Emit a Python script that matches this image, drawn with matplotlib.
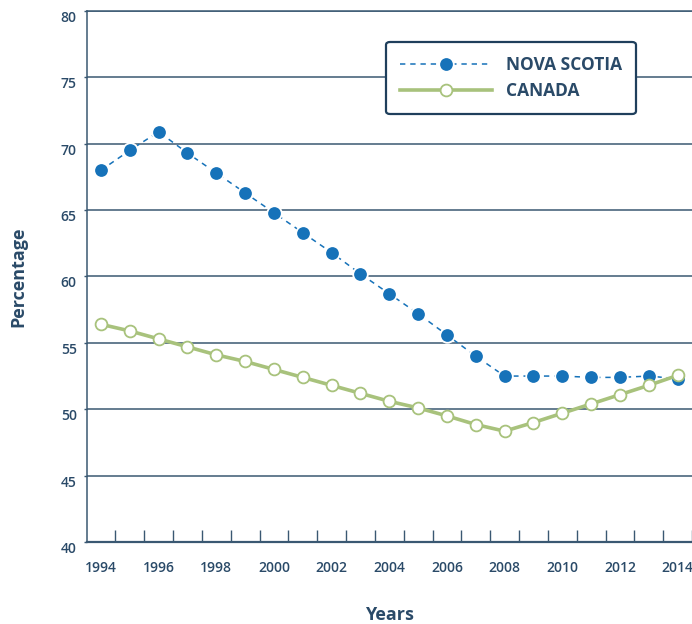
import matplotlib
matplotlib.use("Agg")
import matplotlib.pyplot as plt
import matplotlib.transforms as mtransforms
import numpy as np

plt.rcParams['font.family'] = ['Open Sans', 'DejaVu Sans']

# Data
years = list(range(1994, 2015))
nova_scotia = [68.0, 69.5, 70.9, 69.3, 67.8, 66.3, 64.8, 63.3, 61.8, 60.2,
               58.7, 57.2, 55.6, 54.0, 52.5, 52.5, 52.5, 52.4, 52.4, 52.5, 52.3]
canada = [56.4, 55.9, 55.3, 54.7, 54.1, 53.6, 53.0, 52.4, 51.8, 51.2,
          50.6, 50.1, 49.5, 48.85, 48.35, 49.0, 49.7, 50.4, 51.1, 51.8, 52.55]

text_color = "#2a4a68"
grid_color = "#3a5872"
ns_color = "#1672b9"
ca_color = "#a8c27c"

fig = plt.figure(figsize=(6.92, 6.24), dpi=100)
ax = fig.add_axes([0.125, 0.1314, 0.875, 0.851])

ax.plot(years, nova_scotia, color=ns_color, lw=1.1, dashes=(3.5, 3.2),
        marker="o", markersize=10.5, markerfacecolor=ns_color,
        markeredgecolor="white", markeredgewidth=1.3, label="NOVA SCOTIA", zorder=3)
ax.plot(years, canada, color=ca_color, lw=2.6,
        marker="o", markersize=8.5, markerfacecolor="white",
        markeredgecolor=ca_color, markeredgewidth=1.3, label="CANADA", zorder=4)

ax.set_xlim(1993.5, 2014.5)
ax.set_ylim(40, 80)

ax.set_yticks(np.arange(40, 81, 5))
ax.set_xticks(np.arange(1994, 2015, 2))
ax.set_xticks(np.arange(1994.5, 2015, 1), minor=True)

ax.grid(axis="y", color=grid_color, lw=1.1)
ax.set_axisbelow(True)

ax.spines["right"].set_visible(False)
ax.spines["top"].set_color(grid_color)
ax.spines["top"].set_linewidth(1.1)
ax.spines["left"].set_color(grid_color)
ax.spines["left"].set_linewidth(1.1)
ax.spines["bottom"].set_color(grid_color)
ax.spines["bottom"].set_linewidth(1.6)

ax.tick_params(axis="x", which="major", length=0, pad=14, labelsize=10,
               labelcolor=text_color)
ax.tick_params(axis="x", which="minor", direction="in", length=9, width=1,
               color=grid_color)
ax.tick_params(axis="y", which="major", direction="out", length=2.5, width=1,
               color=grid_color, pad=4.5, labelsize=10, labelcolor=text_color)
for lab in ax.get_xticklabels() + ax.get_yticklabels():
    lab.set_fontweight("semibold")

# y tick labels sit a little below their gridlines
offset = mtransforms.ScaledTranslation(0, -0.055, fig.dpi_scale_trans)
for lab in ax.get_yticklabels():
    lab.set_transform(lab.get_transform() + offset)

ax.set_xlabel("Years", fontsize=13, fontweight="bold", color=text_color, labelpad=22)
ax.set_ylabel("Percentage", fontsize=13, fontweight="bold", color=text_color, labelpad=24)

leg = ax.legend(loc="upper left", bbox_to_anchor=(0.558, 0.933),
                bbox_transform=fig.transFigure, borderaxespad=0,
                fontsize=12.5, handlelength=5.3, handletextpad=0.8,
                labelspacing=0.5, borderpad=0.8, fancybox=True, framealpha=1)
frame = leg.get_frame()
frame.set_edgecolor("#1f3f5c")
frame.set_linewidth(1.6)
for t in leg.get_texts():
    t.set_color(text_color)
    t.set_fontweight("bold")

fig.savefig("out.png", dpi=100)
